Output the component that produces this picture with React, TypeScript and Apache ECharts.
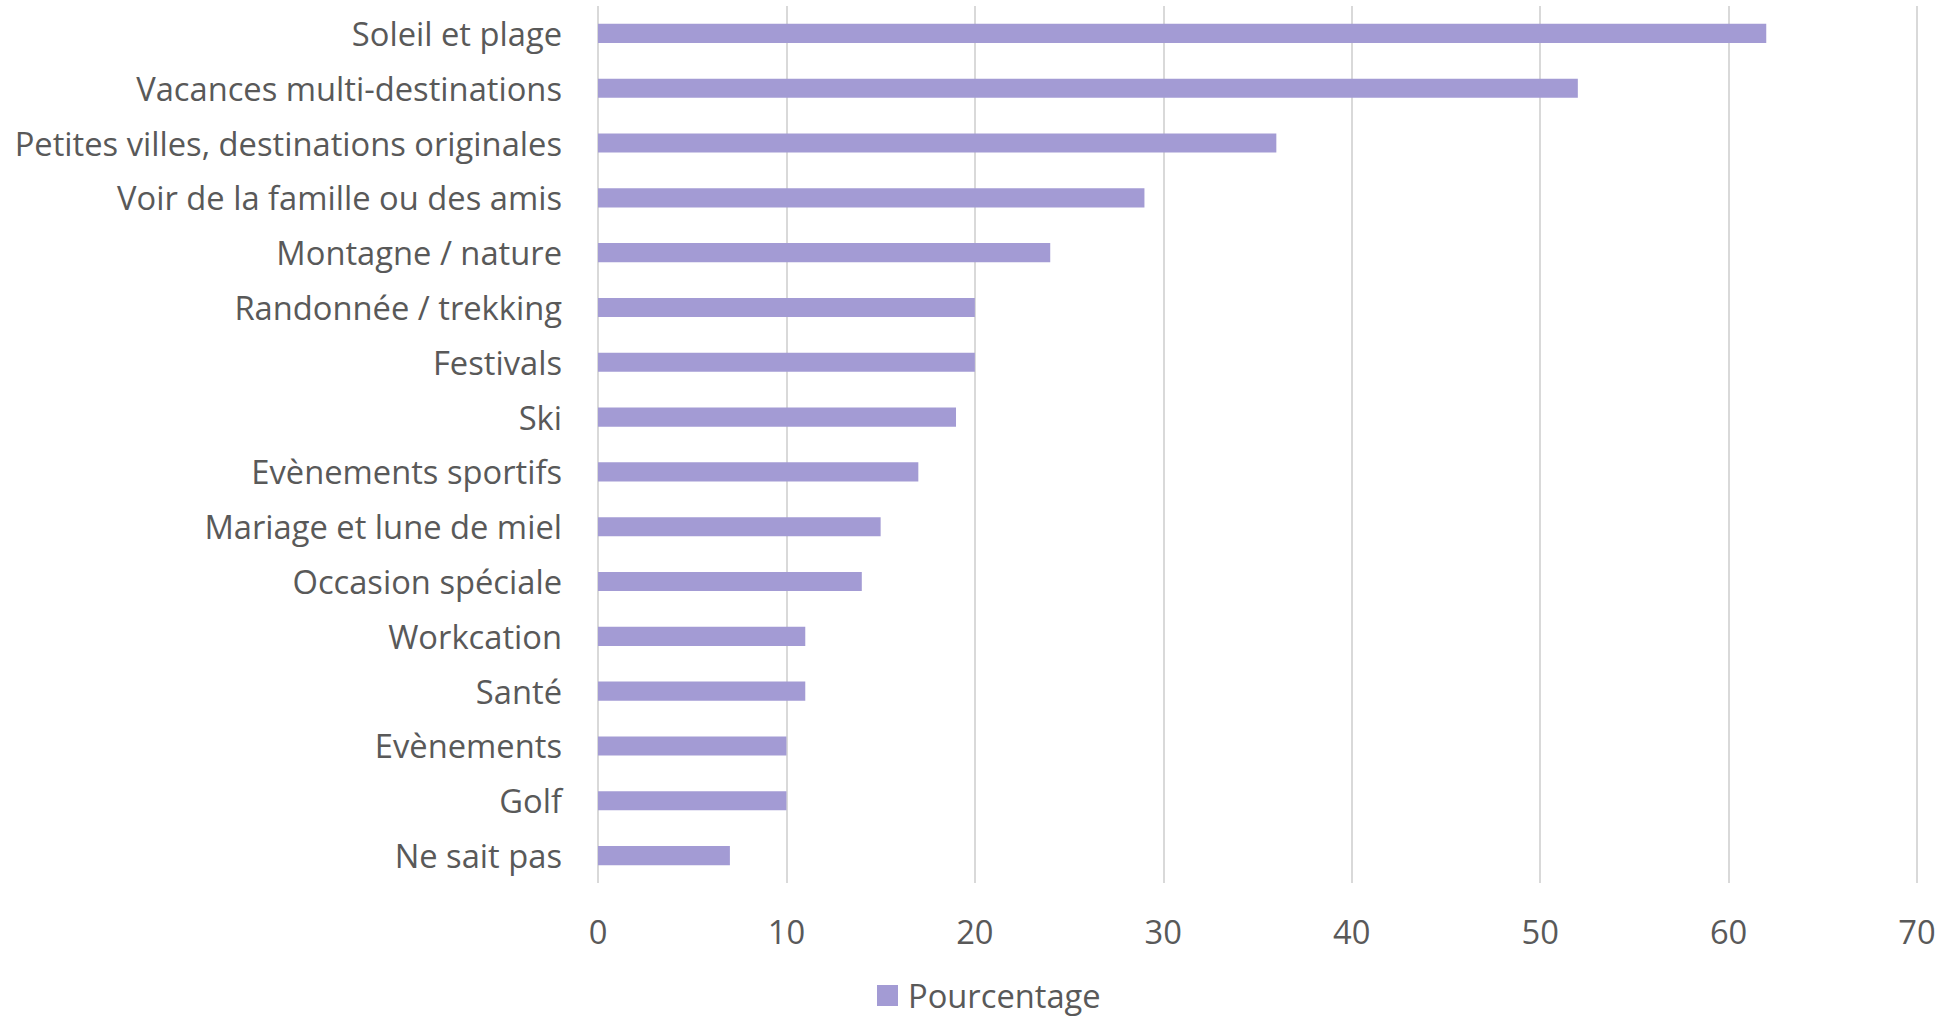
import React, { useEffect, useRef } from "react";
import * as echarts from "echarts";

const categories = [
  "Soleil et plage",
  "Vacances multi-destinations",
  "Petites villes, destinations originales",
  "Voir de la famille ou des amis",
  "Montagne / nature",
  "Randonnée / trekking",
  "Festivals",
  "Ski",
  "Evènements sportifs",
  "Mariage et lune de miel",
  "Occasion spéciale",
  "Workcation",
  "Santé",
  "Evènements",
  "Golf",
  "Ne sait pas",
];
const values = [62, 52, 36, 29, 24, 20, 20, 19, 17, 15, 14, 11, 11, 10, 10, 7];
const seriesName = "Pourcentage";
const xMin = 0;
const xMax = 70;
const xInterval = 10;

const FONT = "Open Sans";
const TEXT = "#595959";
const FS = 32.7;

export default function App() {
  const ref = useRef<HTMLDivElement>(null);
  useEffect(() => {
    document.body.style.margin = "0";
    const chart = echarts.init(ref.current!, null, { renderer: "svg" });
    chart.setOption({
      animation: false,
      backgroundColor: "#ffffff",
      textStyle: { fontFamily: FONT },
      grid: { left: 598, right: 25, top: 6, bottom: 135, containLabel: false },
      legend: {
        data: [seriesName],
        left: 877,
        top: 979,
        padding: 0,
        itemWidth: 21,
        itemHeight: 21,
        icon: "rect",
        textStyle: { color: TEXT, fontSize: FS, lineHeight: FS, fontFamily: FONT, padding: [0, 0, 0, 5] },
      },
      xAxis: {
        type: "value",
        min: xMin,
        max: xMax,
        interval: xInterval,
        axisLine: { show: false },
        axisTick: { show: false },
        splitLine: { show: true, lineStyle: { color: "#d9d9d9", width: 2 } },
        axisLabel: { color: TEXT, fontSize: FS, lineHeight: FS, fontFamily: FONT, margin: 32 },
      },
      yAxis: {
        type: "category",
        data: categories,
        inverse: true,
        axisLine: { show: false },
        axisTick: { show: false },
        axisLabel: { color: TEXT, fontSize: FS, fontFamily: FONT, margin: 36, padding: [0, 0, 2, 0] },
      },
      series: [
        {
          name: seriesName,
          type: "bar",
          data: values,
          barWidth: "35%",
          itemStyle: { color: "#a39bd4" },
        },
      ],
    });
    return () => chart.dispose();
  }, []);
  return <div ref={ref} style={{ position: "fixed", left: 0, top: 0, width: 1942, height: 1018 }} />;
}
